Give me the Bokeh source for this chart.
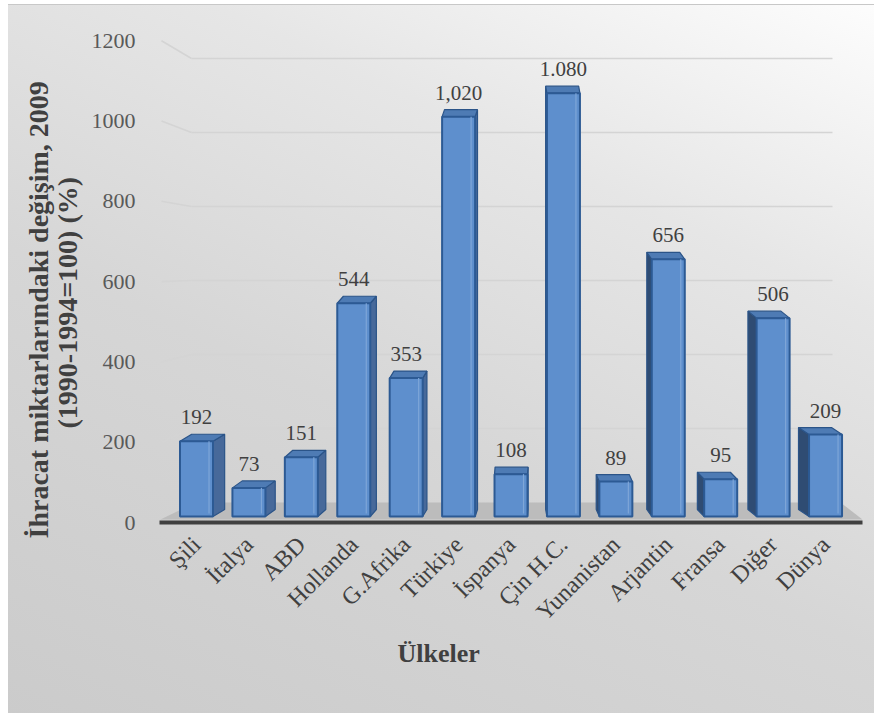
import numpy as np
from math import pi
from bokeh.plotting import figure
from bokeh.models import (Range1d, LinearAxis, FixedTicker, Title, ColumnDataSource,
                          LabelSet)
from bokeh.embed import file_html
from bokeh.resources import INLINE

# ---------------- data ----------------
categories = ["Şili", "İtalya", "ABD", "Hollanda", "G.Afrika", "Türkiye", "İspanya",
              "Çin H.C.", "Yunanistan", "Arjantin", "Fransa", "Diğer", "Dünya"]
values = [192, 73, 151, 544, 353, 1020, 108, 1080, 89, 656, 95, 506, 209]
value_labels = ["192", "73", "151", "544", "353", "1,020", "108", "1.080", "89",
                "656", "95", "506", "209"]
y_ticks = [0, 200, 400, 600, 800, 1000, 1200]
y_title_1 = "İhracat  miktarlarındaki değişim, 2009"
y_title_2 = "(1990-1994=100) (%)"
x_title = "Ülkeler"

# ---------------- geometry (styling) ----------------
W, H = 874, 713
FL, FR, FT, FB = 159, 862, 20, 522          # frame edges in page pixels
X0, SX = 196.0, 52.42                       # first category centre, px per category
BAR0, SB = 516.0, 0.392                     # bar scale: zero line px, px per unit
TICK0, ST = 522.0, 0.4015                   # tick-label scale
WALL0, SW = 502.0, 0.37                     # back wall scale

def xu(px):
    return (px - X0) / SX

def bar_u(py):
    return (BAR0 - py) / SB

def wall_u(py):
    return (WALL0 - py) / SW

FONT = "'Liberation Serif', 'Times New Roman', serif"

p = figure(width=W, height=H, output_backend="svg", toolbar_location=None,
           x_range=Range1d(xu(FL), xu(FR)),
           y_range=Range1d(bar_u(FB), bar_u(FT)),
           y_axis_location=None,
           min_border_left=FL, min_border_right=W - FR,
           min_border_top=FT, min_border_bottom=H - FB)
p.extra_y_ranges = {
    "tick": Range1d((TICK0 - FB) / ST, (TICK0 - FT) / ST),
    "wall": Range1d(wall_u(FB), wall_u(FT)),
}
p.grid.visible = False
p.outline_line_color = None
p.background_fill_alpha = 0
p.border_fill_alpha = 0
p.styles = {
    "background": "linear-gradient(205deg, #fdfdfd 0%, #e6e6e6 28%, #d6d6d6 58%, #cbcbcb 100%)",
    "box-shadow": "inset 8px 4px 0 0 #ffffff, inset 8px 5px 0 0 #c8c8c8",
}

# ---------------- back wall gridlines ----------------
gv = np.array([v for v in y_ticks if v > 0], dtype=float)
p.segment(x0=[xu(191)] * len(gv), x1=[xu(832)] * len(gv), y0=gv, y1=gv,
          line_color="#d4d4d4", line_width=1.6, y_range_name="wall")
tick_py = TICK0 - ST * gv
p.segment(x0=[xu(161)] * len(gv), x1=[xu(191)] * len(gv),
          y0=wall_u(tick_py), y1=gv,
          line_color="#d4d4d4", line_width=1.6, y_range_name="wall")

# ---------------- floor ----------------
p.patch(x=[xu(160), xu(195), xu(840), xu(862)],
        y=[bar_u(519), bar_u(502), bar_u(502), bar_u(519)],
        fill_color="#bcbcbc", line_color=None)

# ---------------- 3D bars ----------------
idx = np.arange(len(categories), dtype=float)
vals = np.array(values, dtype=float)
bw = 33.0 / SX
left = idx - bw / 2
right = idx + bw / 2
dx = 1.85 * (6.3 - idx) / SX
dy = 7.0 / SB

side_xs, side_ys, side_col = [], [], []
top_xs, top_ys = [], []
for i in range(len(idx)):
    edge = right[i] if dx[i] > 0 else left[i]
    side_xs.append([edge, edge + dx[i], edge + dx[i], edge])
    side_ys.append([0, dy, vals[i] + dy, vals[i]])
    side_col.append("#47699a" if dx[i] > 0 else "#2f4c73")
    top_xs.append([left[i], right[i], right[i] + dx[i], left[i] + dx[i]])
    top_ys.append([vals[i], vals[i], vals[i] + dy, vals[i] + dy])

p.patches(xs=side_xs, ys=side_ys, fill_color=side_col, line_color="#2b5488",
          line_width=1.2)
p.patches(xs=top_xs, ys=top_ys, fill_color="#4e7bb4", line_color="#2b5488",
          line_width=1.2)
src = ColumnDataSource(dict(x=idx, left=left, right=right, top=vals,
                            lab=value_labels))
p.quad(left="left", right="right", bottom=0, top="top", source=src,
       fill_color="#5e8fcd", line_color="#2c5a94", line_width=2)
# inner bevel highlight
p.segment(x0=right - 4.0 / SX, x1=right - 4.0 / SX, y0=np.full_like(vals, 3.0 / SB),
          y1=vals, line_color="#7ea6d8", line_width=1.2)

labels = LabelSet(x="x", y="top", text="lab", source=src, y_offset=24,
                  text_align="center", text_baseline="middle",
                  text_font=FONT, text_font_size="21px", text_color="#404040")
p.add_layout(labels)

# ---------------- axes ----------------
xa = p.xaxis[0]
xa.ticker = FixedTicker(ticks=list(range(len(categories))))
xa.major_label_overrides = {i: c for i, c in enumerate(categories)}
xa.major_label_orientation = pi / 4
xa.major_label_text_font = FONT
xa.major_label_text_font_size = "24px"
xa.major_label_text_color = "#404040"
xa.major_label_standoff = 12
xa.axis_line_color = "#404040"
xa.axis_line_width = 4
xa.major_tick_line_color = None
xa.minor_tick_line_color = None

ya = LinearAxis(y_range_name="tick", ticker=FixedTicker(ticks=y_ticks))
ya.axis_line_color = None
ya.major_tick_line_color = None
ya.minor_tick_line_color = None
ya.major_label_text_font = FONT
ya.major_label_text_font_size = "22px"
ya.major_label_text_color = "#595959"
ya.major_label_standoff = 18
p.add_layout(ya, "left")

# ---------------- axis titles ----------------
t2 = Title(text=y_title_2, align="left", offset=FB - 428, text_font=FONT,
           text_font_size="28px", text_font_style="bold", text_color="#404040",
           standoff=12)
t1 = Title(text=y_title_1, align="left", offset=FB - 538, text_font=FONT,
           text_font_size="28px", text_font_style="bold", text_color="#404040",
           standoff=-20)
p.add_layout(t2, "left")
p.add_layout(t1, "left")

tx = Title(text=x_title, align="left", offset=397 - FL, vertical_align="top",
           text_font=FONT, text_font_size="26px", text_font_style="bold",
           text_color="#404040", standoff=2)
p.add_layout(tx, "below")

open("out.html", "w").write(file_html(p, INLINE))
